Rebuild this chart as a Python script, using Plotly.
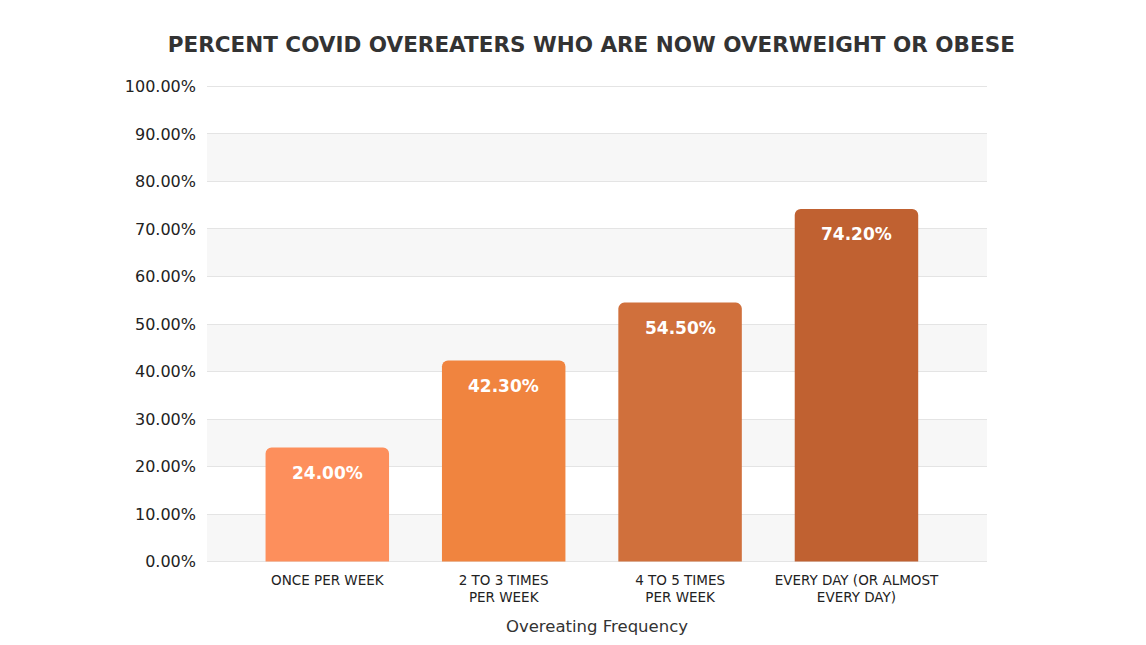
import plotly.graph_objects as go

categories = ["ONCE PER WEEK", "2 TO 3 TIMES<br>PER WEEK", "4 TO 5 TIMES<br>PER WEEK", "EVERY DAY (OR ALMOST<br>EVERY DAY)"]
values = [24.00, 42.30, 54.50, 74.20]
bar_colors = ["#FD8F5C", "#F0843F", "#D0703C", "#C06131"]
y_ticks = [0, 10, 20, 30, 40, 50, 60, 70, 80, 90, 100]
y_tick_labels = [f"{v:.2f}%" for v in y_ticks]
title_text = "PERCENT COVID OVEREATERS WHO ARE NOW OVERWEIGHT OR OBESE"
x_title = "Overeating Frequency"

FONT = "DejaVu Sans"

fig = go.Figure()
fig.add_trace(go.Bar(
    x=categories, y=values,
    marker=dict(color=bar_colors, line=dict(width=0)),
    width=0.7,
    textposition="none",
))

for c, v in zip(categories, values):
    fig.add_annotation(x=c, y=v, xref="x", yref="y", text=f"{v:.2f}%",
                       showarrow=False, yanchor="top", yshift=-13,
                       font=dict(family=FONT, size=17, color="white", weight="bold"))

shapes = []
for i in range(0, len(y_ticks) - 1, 2):
    shapes.append(dict(type="rect", xref="paper", yref="y", x0=0, x1=1,
                       y0=y_ticks[i], y1=y_ticks[i + 1],
                       fillcolor="#F7F7F7", line=dict(width=0), layer="below"))
for t in (y_ticks[0], y_ticks[-1]):
    shapes.append(dict(type="line", xref="paper", yref="y", x0=0, x1=1, y0=t, y1=t,
                       line=dict(color="#E4E4E4", width=1), layer="below"))

fig.update_layout(
    width=1146, height=645,
    margin=dict(l=199, r=167, t=78, b=91),
    paper_bgcolor="white", plot_bgcolor="white",
    barcornerradius=6,
    showlegend=False,
    shapes=shapes,
    title=dict(text=title_text, x=0.509, xanchor="center", y=0.943, yanchor="middle",
               font=dict(family=FONT, size=21.5, color="#333333", weight="bold")),
    xaxis=dict(range=[-0.682, 3.74], showgrid=False, zeroline=False, showline=False,
               ticks="", ticklabelstandoff=8,
               tickfont=dict(family=FONT, size=13.5, color="#222222"),
               title=dict(text=x_title, font=dict(family=FONT, size=16.5, color="#333333"), standoff=16)),
    yaxis=dict(range=[-0.1, 100.1], tickvals=y_ticks, ticktext=y_tick_labels,
               showgrid=True, gridcolor="#E4E4E4", gridwidth=1, zeroline=False,
               showline=False, ticks="", ticklabelstandoff=10,
               tickfont=dict(family=FONT, size=16, color="#222222")),
)

fig.write_html("out.html")
